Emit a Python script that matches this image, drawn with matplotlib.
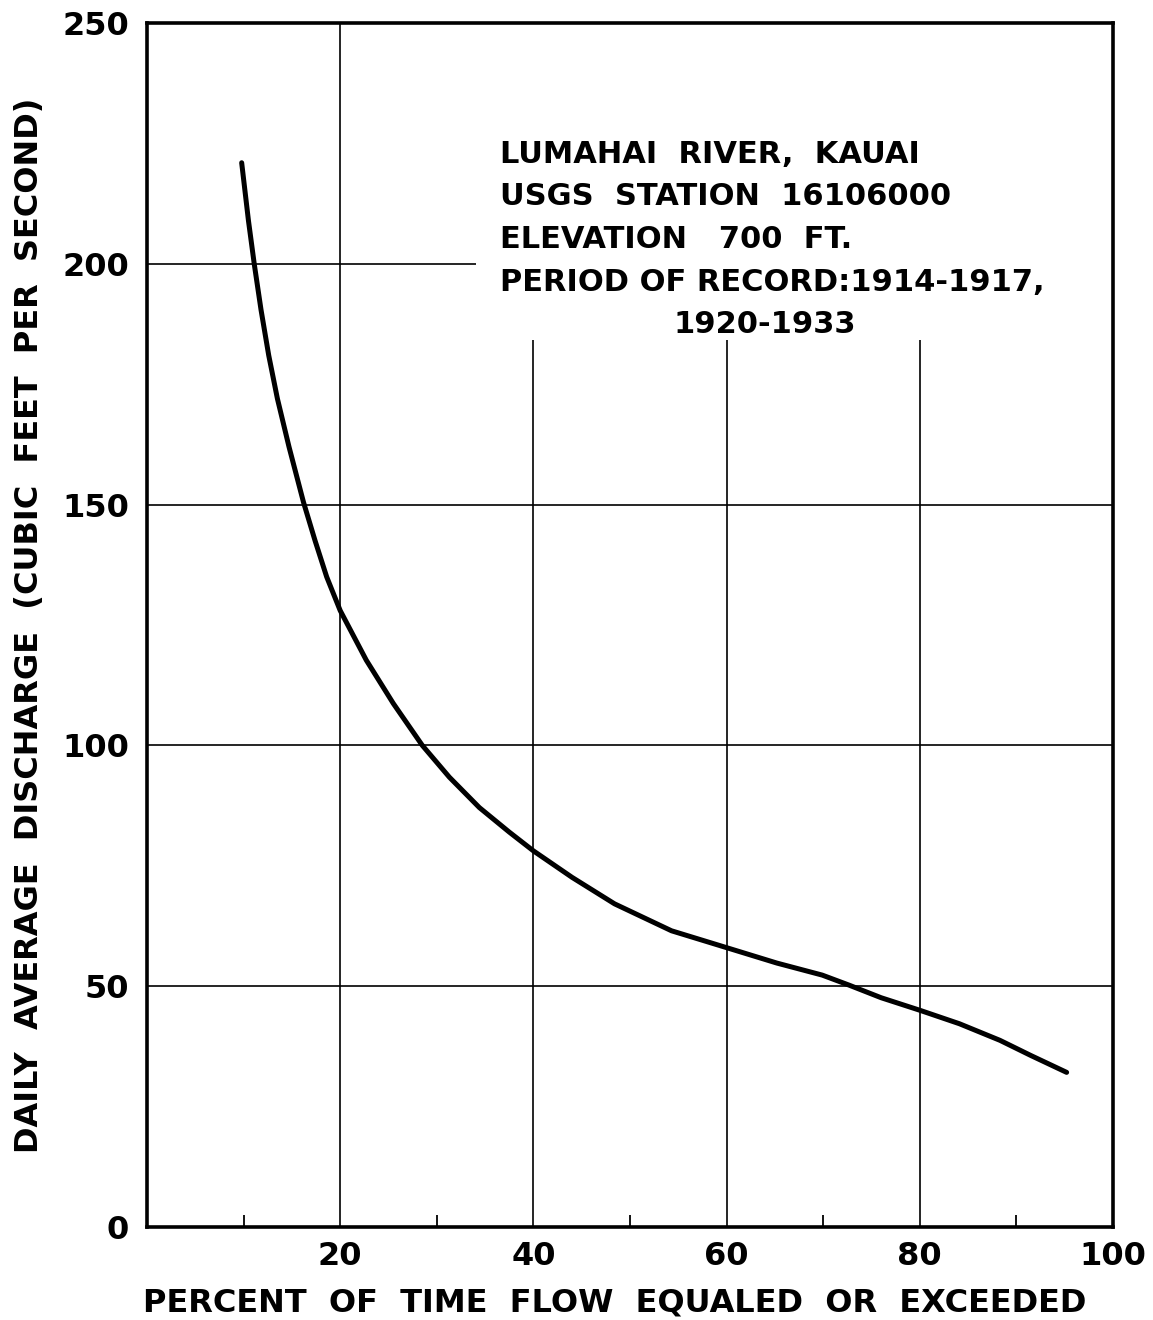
import matplotlib
matplotlib.use("Agg")
import matplotlib.pyplot as plt
from matplotlib.patches import Rectangle

# -----------------------------
# Flow-duration curve
# -----------------------------
pct_time = [9.8, 10.5, 11.1, 11.8, 12.6, 13.5, 14.7, 16.2, 17.4, 18.6, 20.0,
            22.7, 25.5, 28.5, 31.3, 34.4, 37.5, 40.0, 44.0, 48.4, 54.3,
            60.0, 65.2, 69.9, 72.7, 76.0, 80.0, 84.1, 88.3, 91.5, 95.2]
discharge = [221.0, 209.0, 200.0, 190.5, 181.0, 172.0, 162.0, 150.5, 142.5, 135.0, 128.0,
             117.7, 108.7, 100.0, 93.4, 87.1, 82.0, 78.1, 72.6, 67.1, 61.5,
             58.0, 54.8, 52.3, 50.2, 47.6, 45.0, 42.2, 38.75, 35.6, 32.1]

x_ticks = [20, 40, 60, 80, 100]
x_minor = [10, 30, 50, 70, 90]
y_ticks = [0, 50, 100, 150, 200, 250]

info_lines = ["LUMAHAI  RIVER,  KAUAI",
              "USGS  STATION  16106000",
              "ELEVATION   700  FT.",
              "PERIOD OF RECORD:1914-1917,"]
info_last = "1920-1933"

plt.rcParams["font.family"] = "DejaVu Sans"
plt.rcParams["font.weight"] = "bold"

fig = plt.figure(figsize=(11.53, 13.2), dpi=100)
ax = fig.add_axes([0.1275, 0.0705, 0.8378, 0.912])

ax.plot(pct_time, discharge, color="black", linewidth=3.6,
        solid_capstyle="round", solid_joinstyle="round", zorder=3)

ax.set_xlim(0, 100)
ax.set_ylim(0, 250)
ax.set_xticks(x_ticks)
ax.set_xticks(x_minor, minor=True)
ax.set_yticks(y_ticks)

ax.grid(True, which="major", color="black", linewidth=1.2)
ax.set_axisbelow(True)

# white patch behind the station note (hides grid lines there)
ax.add_patch(Rectangle((0.3406, 0.737), 0.6594, 0.263, transform=ax.transAxes,
                       facecolor="white", edgecolor="none", zorder=1))

for s in ax.spines.values():
    s.set_linewidth(2.6)
    s.set_zorder(5)

ax.tick_params(axis="x", which="major", length=0, pad=10, labelsize=23)
ax.tick_params(axis="x", which="minor", direction="in", length=9, width=1.3)
ax.tick_params(axis="y", which="major", length=0, pad=13, labelsize=23)

ax.set_xlabel("PERCENT  OF  TIME  FLOW  EQUALED  OR  EXCEEDED",
              fontsize=23, fontweight="bold")
ax.xaxis.set_label_coords(0.4845, -0.05)
ax.set_ylabel("DAILY  AVERAGE  DISCHARGE  (CUBIC  FEET  PER  SECOND)",
              fontsize=23, fontweight="bold", labelpad=12)

line_y = [0.8837, 0.8488, 0.8131, 0.7774]
for txt, yy in zip(info_lines, line_y):
    ax.text(0.3654, yy, txt, transform=ax.transAxes, fontsize=22,
            fontweight="bold", ha="left", va="baseline", zorder=4)
ax.text(0.6398, 0.7425, info_last, transform=ax.transAxes, fontsize=22,
        fontweight="bold", ha="center", va="baseline", zorder=4)

fig.savefig("out.png", dpi=100)
